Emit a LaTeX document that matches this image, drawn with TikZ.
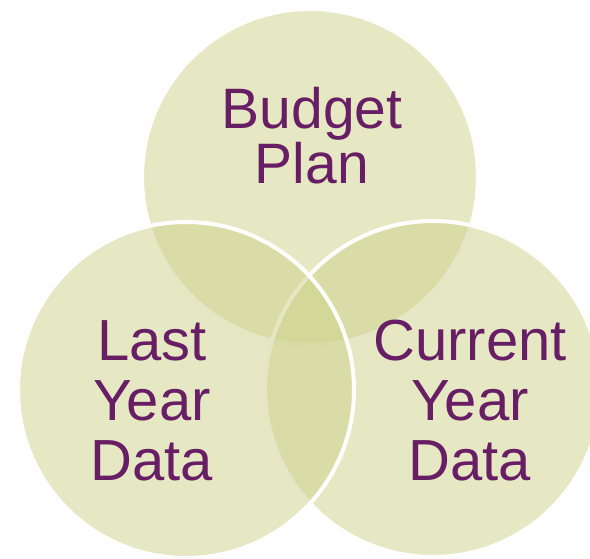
\documentclass[tikz,border=0pt]{standalone}
\usepackage{fontspec}
\setmainfont{Liberation Sans}
\usepackage{tikz}
\usetikzlibrary{positioning, shapes.geometric}
\definecolor{vennfill}{RGB}{205,209,138}
\definecolor{vennplum}{RGB}{103,30,100}

\begin{document}
\begin{tikzpicture}[
x=1pt, y=-1pt,
ring/.style={
    circle,
    inner sep = 0pt,
    minimum size = 336pt,
    fill = vennfill,
    fill opacity = 0.5,
    draw = white,
    draw opacity = 1,
    line width = 4pt
    },
ringtext/.style={
    align = center,
    text = vennplum,
    inner sep = 0pt
    }
]

\useasboundingbox (0,0) rectangle (590,559);
\clip (0,0) rectangle (590,559);

% top, right, left
\node [ring] (budget) at (310,177) {};
\node [ring] (current) at (433,389) {};
\node [ring] (last) at (186,390) {};

% base = last line
\node [ringtext, anchor=base, font=\fontsize{57}{55}\selectfont] (budgettext) at (312,184) {Budget\\Plan};
\node [ringtext, anchor=base, font=\fontsize{58}{60}\selectfont] (lasttext) at (152,480) {Last\\Year\\Data};
\node [ringtext, anchor=base, font=\fontsize{58}{60}\selectfont] (currenttext) at (470,480) {Current\\Year\\Data};

\end{tikzpicture}
\end{document}
